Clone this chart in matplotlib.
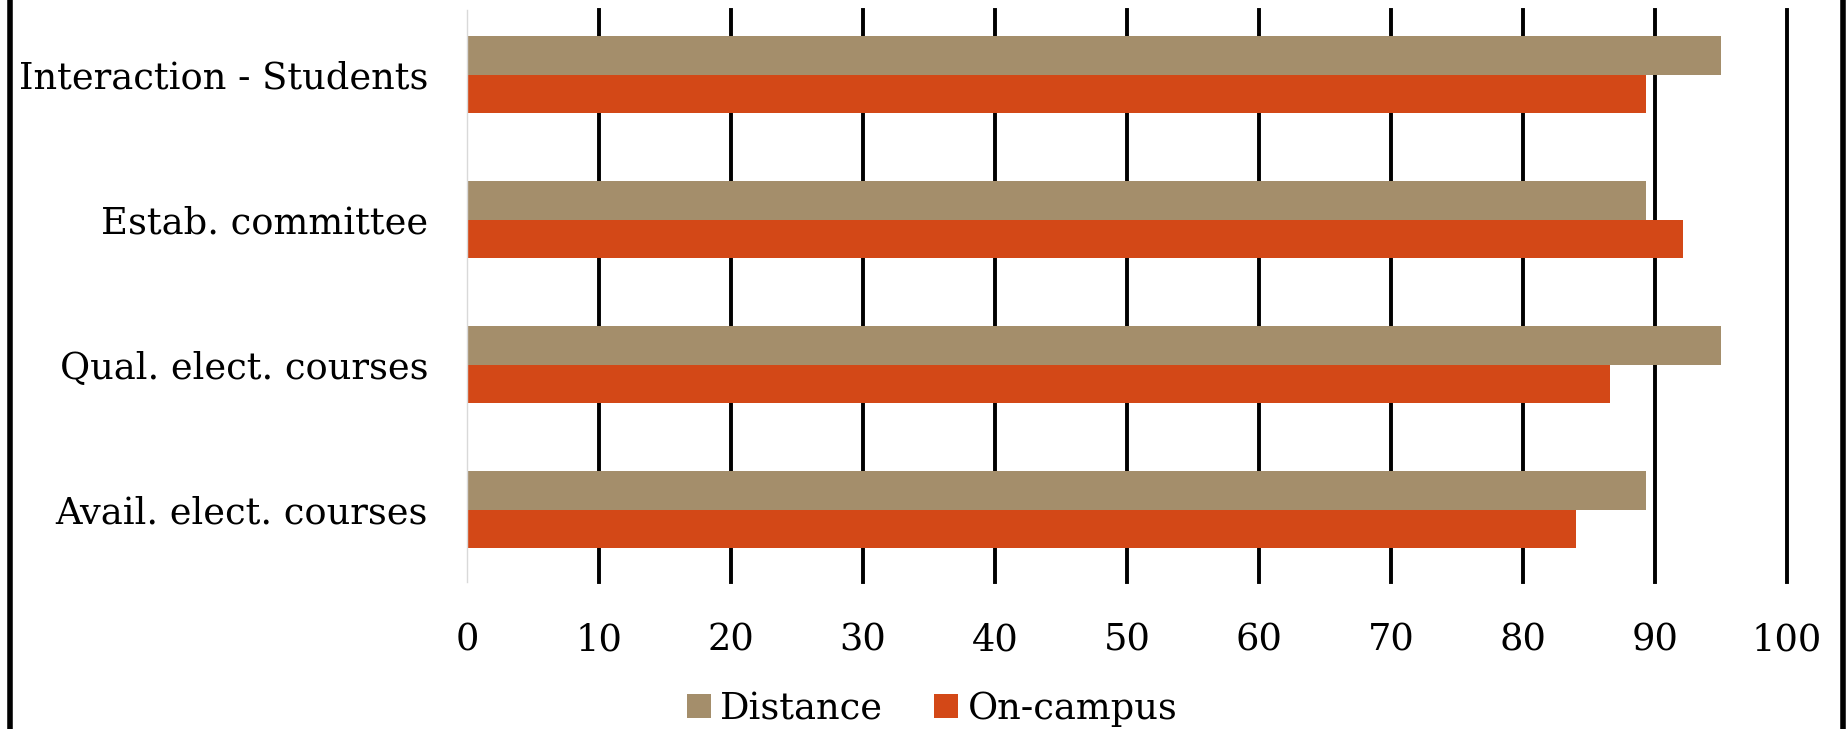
import matplotlib
matplotlib.use("Agg")
import matplotlib.pyplot as plt
from matplotlib.lines import Line2D
import numpy as np

plt.rcParams['font.family'] = ['DejaVu Serif']

categories = ["Avail. elect. courses", "Qual. elect. courses",
              "Estab. committee", "Interaction - Students"]
distance = [89.3, 95.0, 89.3, 95.0]
on_campus = [84.0, 86.6, 92.1, 89.3]
xticks = list(range(0, 101, 10))

col_dist = "#A48E6B"
col_camp = "#D34817"

W, H = 1849, 729
fig = plt.figure(figsize=(W / 100, H / 100), dpi=100)
ax = fig.add_axes([467 / W, 1 - 582 / H, (1787 - 467) / W, (582 - 10) / H])

y = np.arange(len(categories))
bh = 0.265
ax.barh(y + bh / 2, distance, height=bh, color=col_dist, label="Distance", zorder=3)
ax.barh(y - bh / 2, on_campus, height=bh, color=col_camp, label="On-campus", zorder=3)

ax.set_xlim(0, 100)
ax.set_ylim(-0.5, 3.445)
ax.set_xticks(xticks)
ax.set_yticks(y)
ax.set_yticklabels(categories)
ax.tick_params(axis='both', length=0, labelsize=26.5)
ax.tick_params(axis='y', pad=28)
ax.tick_params(axis='x', pad=29)

# black vertical gridlines behind the bars (none on the zero line)
ax.grid(axis='x', color='black', linewidth=2.8, zorder=0)
for gl in ax.xaxis.get_gridlines():
    gl.set_clip_on(False)
ax.xaxis.get_gridlines()[0].set_visible(False)
ax.set_axisbelow(True)
for s in ['top', 'right', 'bottom']:
    ax.spines[s].set_visible(False)
ax.spines['left'].set_color('#D9D9D9')
ax.spines['left'].set_linewidth(1.0)
ax.spines['left'].set_zorder(4)

# frame lines at the left and right edges
fig.add_artist(Line2D([10 / W, 10 / W], [0, 1], color='black', linewidth=4))
fig.add_artist(Line2D([1843 / W, 1843 / W], [0, 1], color='black', linewidth=4))

fig.legend(loc='center', bbox_to_anchor=(932 / W, 1 - 709 / H), ncol=2,
           frameon=False, fontsize=26.5, handlelength=0.65, handleheight=0.65,
           handletextpad=0.25, columnspacing=1.4, borderaxespad=0)

fig.savefig("out.png", dpi=100)
